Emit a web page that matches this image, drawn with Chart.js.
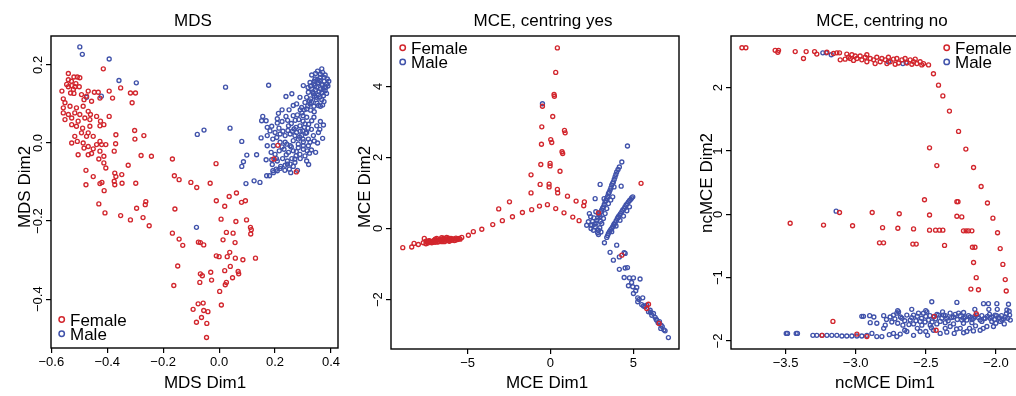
<!DOCTYPE html>
<html><head><meta charset="utf-8">
<script src="https://cdn.jsdelivr.net/npm/chart.js@4/dist/chart.umd.min.js"></script>
<style>
html,body{margin:0;padding:0;background:#fff;overflow:hidden;width:1016px;height:396px;position:relative;}
.p{position:absolute;top:0;height:396px;}
</style></head><body>
<div class="p" style="left:0px;width:345px"><canvas id="c1" width="345" height="396"></canvas></div>
<div class="p" style="left:345px;width:340px"><canvas id="c2" width="340" height="396"></canvas></div>
<div class="p" style="left:685px;width:350px"><canvas id="c3" width="350" height="396"></canvas></div>
<script>
// ---------- data ----------
const seriesNames = ['Female', 'Male'];

const mdsXTicks = [-0.6, -0.4, -0.2, 0, 0.2, 0.4];
const mdsYTicks = [-0.4, -0.2, 0, 0.2];
const mceXTicks = [-5, 0, 5];
const mceYTicks = [-2, 0, 2, 4];
const ncXTicks = [-3.5, -3, -2.5, -2];
const ncYTicks = [-2, -1, 0, 1, 2];

const mdsFemale = [
[-0.539,0.178],[-0.507,0.169],[-0.498,0.167],[-0.414,0.190],[-0.562,0.133],[-0.539,0.144],[-0.527,0.147],[-0.521,0.137],[-0.515,0.144],[-0.531,0.128],[-0.512,0.152],[-0.500,0.144],[-0.468,0.133],[-0.446,0.130],[-0.432,0.130],[-0.393,0.133],[-0.352,0.141],[-0.317,0.128],[-0.299,0.128],[-0.311,0.103],[-0.381,0.115],[-0.426,0.115],[-0.492,0.124],[-0.557,0.113],[-0.551,0.103],[-0.533,0.094],[-0.510,0.090],[-0.486,0.094],[-0.468,0.081],[-0.460,0.073],[-0.498,0.073],[-0.516,0.077],[-0.539,0.073],[-0.557,0.077],[-0.551,0.060],[-0.527,0.064],[-0.504,0.056],[-0.480,0.064],[-0.462,0.060],[-0.438,0.068],[-0.424,0.056],[-0.393,0.068],[-0.527,0.047],[-0.510,0.043],[-0.488,0.038],[-0.462,0.043],[-0.426,0.044],[-0.412,0.047],[-0.492,0.026],[-0.468,0.026],[-0.516,0.017],[-0.474,0.017],[-0.450,0.017],[-0.426,0.004],[-0.507,0.004],[-0.527,0.000],[-0.486,0.000],[-0.468,-0.009],[-0.438,-0.004],[-0.420,-0.004],[-0.405,-0.004],[-0.369,0.021],[-0.302,0.032],[-0.301,0.010],[-0.269,0.019],[-0.370,-0.002],[-0.375,-0.021],[-0.426,-0.021],[-0.456,-0.027],[-0.468,-0.030],[-0.504,-0.030],[-0.483,-0.013],[-0.450,-0.015],[-0.412,-0.034],[-0.430,-0.041],[-0.412,-0.051],[-0.405,-0.064],[-0.476,-0.070],[-0.450,-0.086],[-0.426,-0.104],[-0.419,-0.101],[-0.476,-0.107],[-0.411,-0.122],[-0.373,-0.077],[-0.369,-0.086],[-0.375,-0.098],[-0.373,-0.107],[-0.348,-0.081],[-0.347,-0.103],[-0.325,-0.057],[-0.298,-0.103],[-0.279,-0.032],[-0.242,-0.034],[-0.430,-0.156],[-0.408,-0.179],[-0.352,-0.186],[-0.317,-0.197],[-0.295,-0.167],[-0.272,-0.191],[-0.264,-0.158],[-0.262,-0.150],[-0.250,-0.212],[-0.167,-0.041],[-0.160,-0.084],[-0.143,-0.094],[-0.101,-0.101],[-0.080,-0.114],[-0.032,-0.103],[-0.011,-0.053],[-0.158,-0.169],[-0.167,-0.231],[-0.143,-0.246],[-0.130,-0.262],[-0.148,-0.315],[-0.162,-0.365],[-0.010,-0.148],[0.020,-0.162],[0.036,-0.137],[0.062,-0.128],[0.080,-0.152],[0.094,-0.148],[0.007,-0.195],[0.060,-0.201],[0.098,-0.197],[0.112,-0.216],[0.115,-0.222],[0.113,-0.233],[0.026,-0.229],[0.050,-0.231],[0.014,-0.248],[0.057,-0.255],[-0.074,-0.254],[-0.067,-0.255],[-0.055,-0.261],[-0.010,-0.289],[0.000,-0.291],[0.029,-0.291],[0.038,-0.280],[0.058,-0.295],[0.085,-0.299],[0.130,-0.295],[0.040,-0.316],[0.020,-0.327],[0.068,-0.329],[0.070,-0.335],[0.048,-0.345],[-0.030,-0.331],[-0.067,-0.335],[-0.060,-0.340],[-0.069,-0.357],[-0.027,-0.351],[0.026,-0.357],[0.022,-0.363],[0.002,-0.380],[-0.057,-0.410],[-0.075,-0.412],[-0.055,-0.429],[-0.040,-0.432],[-0.093,-0.426],[-0.063,-0.447],[-0.081,-0.459],[-0.044,-0.462],[0.008,-0.415],[-0.045,-0.498],[0.210,-0.006],[0.196,-0.041],[0.276,-0.074],
[-0.539,0.162],[-0.528,0.158],[-0.545,0.150],[-0.519,0.127],[-0.474,0.120],[-0.456,0.107],[-0.483,0.111],[-0.557,0.090],[-0.519,0.169]
];
const mdsMale = [
[-0.498,0.246],[-0.489,0.227],[-0.393,0.215],[-0.358,0.160],[-0.296,0.154],[-0.421,0.120],[-0.474,0.117],[0.023,0.143],[0.177,0.148],[-0.081,-0.216],
[0.352,0.184],[0.370,0.181],[0.379,0.174],[0.387,0.164],[0.361,0.168],[0.343,0.164],[0.331,0.174],[0.325,0.155],[0.339,0.151],[0.355,0.155],[0.370,0.149],[0.385,0.151],[0.349,0.143],[0.331,0.138],[0.363,0.138],[0.379,0.134],[0.319,0.130],[0.337,0.126],[0.355,0.123],[0.373,0.121],[0.313,0.117],[0.327,0.113],[0.347,0.111],[0.367,0.111],[0.301,0.147],[0.307,0.104],[0.325,0.100],[0.339,0.094],[0.355,0.096],[0.370,0.097],[0.295,0.091],[0.313,0.087],[0.277,0.100],[0.265,0.096],[0.289,0.117],[0.260,0.126],[0.239,0.119],
[0.156,0.068],[0.152,0.057],[0.168,0.057],[0.172,0.040],[0.188,0.043],[0.182,0.031],[0.200,0.027],[0.208,0.051],[0.212,0.076],[0.239,0.068],[0.248,0.044],[0.265,0.070],[0.280,0.072],[0.296,0.077],[0.313,0.066],[0.331,0.057],[0.339,0.066],[0.307,0.049],[0.289,0.044],[0.268,0.036],[0.254,0.023],[0.236,0.019],[0.218,0.023],[0.206,0.014],[0.192,0.010],[0.172,0.019],[0.150,0.013],[0.172,-0.007],[0.194,-0.007],[0.218,0.002],[0.242,-0.003],[0.265,0.006],[0.283,0.010],[0.301,0.003],[0.319,0.010],[0.337,0.019],[0.355,0.027],[0.373,0.046],[0.349,0.044],[0.370,0.012],[0.319,-0.007],[0.301,-0.016],[0.283,-0.012],[0.265,-0.020],[0.248,-0.024],[0.232,-0.016],[0.215,-0.020],[0.200,-0.029],[0.186,-0.024],[0.168,-0.043],[0.188,-0.043],[0.208,-0.046],[0.227,-0.040],[0.244,-0.046],[0.260,-0.040],[0.275,-0.033],[0.289,-0.029],[0.307,-0.033],[0.323,-0.026],[0.345,-0.024],[0.313,-0.046],[0.271,-0.050],[0.254,-0.054],[0.236,-0.057],[0.220,-0.060],[0.204,-0.067],[0.192,-0.071],[0.180,-0.084],[0.194,-0.076],[0.208,-0.071],[0.218,-0.065],[0.251,-0.067],[0.256,-0.076],[0.244,-0.054],[0.271,-0.041],[0.134,-0.030],[0.099,-0.031],[0.087,-0.048],[0.081,-0.060],[0.096,-0.104],[0.125,-0.097],[0.146,-0.101],[0.170,-0.084],[0.081,0.004],[0.039,0.038],[-0.054,0.033],[-0.078,0.022],
[0.343,0.147],[0.358,0.160],[0.335,0.131],[0.367,0.128],[0.347,0.117],[0.323,0.108],[0.375,0.168],[0.367,0.190],[0.277,0.027],[0.295,0.019],[0.313,0.027],[0.299,0.031],[0.283,-0.003],[0.301,-0.007],[0.325,0.002],[0.254,-0.007],[0.271,0.019],[0.236,0.002],
[0.345,0.178],[0.362,0.176],[0.376,0.158],[0.352,0.162],[0.340,0.158],[0.366,0.150],[0.381,0.142],[0.357,0.131],[0.344,0.136],[0.327,0.146],[0.318,0.142],[0.372,0.137],[0.389,0.146],[0.360,0.118],[0.340,0.120],[0.384,0.127],[0.330,0.104],[0.350,0.102],[0.362,0.094],[0.317,0.095],[0.304,0.085],[0.327,0.084],[0.375,0.106],[0.392,0.158],
[0.225,0.055],[0.245,0.058],[0.258,0.050],[0.272,0.058],[0.285,0.060],[0.300,0.056],[0.320,0.048],[0.330,0.035],[0.318,0.038],[0.305,0.040],[0.290,0.030],[0.275,0.040],[0.262,0.030],[0.246,0.032],[0.228,0.030],[0.214,0.038],[0.300,0.010],[0.288,0.015],[0.310,0.025],[0.340,0.005],[0.352,0.000],[0.330,-0.018],[0.315,-0.020],[0.290,-0.040],[0.276,-0.022],[0.258,-0.010],[0.240,-0.030],[0.225,-0.010],[0.205,-0.040],[0.190,-0.055],[0.235,-0.070],[0.265,-0.060],[0.280,-0.070],[0.320,-0.055],[0.360,0.035],[0.362,0.055],[0.290,0.085],[0.250,0.085],[0.225,0.085],[0.300,0.070],[0.340,0.080],[0.208,0.062]
];

const mceFemale = [
[-8.91,-0.54],[-8.37,-0.52],[-8.23,-0.42],[-7.97,-0.45],[-7.67,-0.40],[-7.61,-0.28],[-7.36,-0.35],[-7.26,-0.37],[-7.06,-0.35],[-6.86,-0.33],[-6.66,-0.33],[-6.46,-0.31],[-6.26,-0.31],[-6.06,-0.30],[-5.86,-0.29],[-5.65,-0.29],[-7.16,-0.40],[-6.96,-0.39],[-6.76,-0.37],[-6.56,-0.37],[-6.36,-0.35],[-6.16,-0.34],[-5.96,-0.33],[-5.75,-0.33],[-6.86,-0.28],[-6.56,-0.26],[-6.26,-0.25],[-7.42,-0.38],[-7.51,-0.43],
[-7.5,-0.36],[-7.4,-0.41],[-7.3,-0.34],[-7.2,-0.37],[-7.1,-0.39],[-7.0,-0.33],[-6.9,-0.36],[-6.8,-0.38],[-6.7,-0.31],[-6.6,-0.35],[-6.5,-0.33],[-6.4,-0.37],[-6.3,-0.29],[-6.2,-0.32],[-6.1,-0.36],[-6.0,-0.28],[-5.9,-0.31],[-5.8,-0.34],[-5.7,-0.27],[-5.6,-0.31],[-5.5,-0.28],[-5.45,-0.30],[-6.95,-0.30],[-6.45,-0.27],[-6.15,-0.27],
[-5.35,-0.25],[-4.95,-0.19],[-4.65,-0.09],[-4.14,-0.02],[-3.48,0.11],[-2.90,0.22],[-2.29,0.33],[-1.69,0.45],[-1.13,0.53],[-0.66,0.63],[-0.18,0.67],[0.32,0.56],[0.82,0.44],[1.35,0.32],[1.73,0.22],
[-3.12,0.55],[-2.47,0.75],[-1.17,1.00],[-1.17,1.51],[-0.62,1.24],[-0.58,1.80],[-0.54,2.37],[-0.52,2.86],[-0.48,3.44],[-0.08,1.25],[-0.08,1.17],[-0.02,1.83],[-0.02,1.76],[0.02,2.50],[0.08,2.42],[0.14,3.15],[0.22,3.77],[0.24,3.72],[0.32,4.39],[0.42,5.08],[0.42,1.10],[0.44,1.00],[0.58,1.61],[0.70,2.16],[0.74,2.11],[0.85,2.76],[0.89,2.69],[1.03,0.91],[1.55,0.77],[2.05,0.75],[2.01,0.64],[5.47,1.27],
[2.90,0.44],[4.31,-0.75],[5.81,-2.25],[5.92,-2.13],[6.56,-2.67]
];
const mceMale = [
[-0.48,3.51],[4.65,2.32],[-7.36,-0.37],[-6.06,-0.30],
[2.35,0.42],[2.43,0.33],[2.29,0.19],[2.19,0.09],[2.49,0.09],[2.70,0.05],[2.90,-0.05],[2.90,-0.17],[2.60,-0.05],[2.80,0.23],[3.00,0.33],[2.90,0.42],[3.10,0.52],[3.20,0.61],[3.30,0.75],[3.40,0.84],[3.50,0.98],[3.60,1.08],[3.70,1.22],[3.80,1.31],[3.90,1.45],[4.00,1.59],[4.16,1.73],[4.31,1.87],[3.00,1.24],[2.70,0.84],[3.20,0.28],[3.10,0.14],[3.30,0.42],[3.40,0.56],[3.50,0.70],[3.64,0.80],[3.76,0.89],[3.84,1.17],[4.27,1.19],[3.24,0.84],[2.74,0.47],
[2.95,0.38],[3.05,0.47],[3.15,0.57],[3.25,0.68],[3.35,0.79],[3.45,0.90],[3.55,1.02],[3.65,1.14],[3.75,1.27],[3.85,1.38],[3.95,1.52],[4.08,1.66],[2.85,0.30],[2.75,0.15],[2.65,0.12],[2.55,0.20],[2.45,0.00],[2.98,0.02],[3.05,-0.10],[3.02,0.20],[2.62,0.30],[2.85,-0.12],
[3.40,-0.25],[3.50,-0.14],[3.64,-0.03],[3.76,0.05],[3.90,0.16],[4.04,0.28],[4.16,0.37],[4.31,0.47],[4.45,0.56],[4.57,0.66],[4.71,0.75],[4.85,0.82],[4.97,0.89],[3.70,-0.09],[3.96,0.07],[4.20,0.23],[4.41,0.35],[4.61,0.50],[4.77,0.61],[3.84,0.12],[4.10,0.31],
[3.45,-0.20],[3.57,-0.08],[3.70,0.00],[3.83,0.10],[3.97,0.22],[4.10,0.33],[4.23,0.42],[4.37,0.52],[4.50,0.61],[4.64,0.70],[4.78,0.79],[4.90,0.86],
[3.26,-0.40],[3.60,-0.67],[3.80,-0.89],[4.00,-0.47],[4.16,-0.80],[4.45,-0.68],[4.51,-0.70],[4.16,-1.15],[4.51,-1.11],[4.65,-1.10],[4.45,-1.38],[4.77,-1.39],[5.01,-1.39],[5.41,-1.42],[4.71,-1.61],[4.97,-1.64],[5.21,-1.66],[5.01,-1.83],[5.27,-1.95],[5.57,-1.95],[5.27,-2.06],[5.51,-2.14],[5.71,-2.20],[5.92,-2.34],[6.12,-2.44],[6.32,-2.50],[6.42,-2.58],[6.58,-2.62],[6.68,-2.72],[6.66,-2.81],[6.92,-2.88],[7.12,-3.07],[6.22,-2.39],[6.02,-2.30],[5.81,-2.16],
[5.35,-2.00],[5.62,-2.18],[6.05,-2.36],[6.38,-2.55],[6.50,-2.65],[6.75,-2.76],[6.85,-2.85],[5.15,-1.75],[4.90,-1.52]
];

const ncmceFemale = [
[-3.811,2.63],[-3.783,2.63],[-3.574,2.59],[-3.550,2.59],[-3.555,2.56],[-3.431,2.57],[-3.353,2.57],[-3.372,2.46],[-3.293,2.57],[-3.277,2.53],[-3.205,2.56],[-3.158,2.54],[-3.134,2.55],[-3.115,2.55],[-3.110,2.44],[-3.063,2.53],[-3.027,2.52],[-3.051,2.48],[-3.003,2.50],
[-3.075,2.45],[-3.039,2.46],[-2.991,2.46],[-2.968,2.50],[-2.956,2.44],[-2.932,2.48],[-2.920,2.41],[-2.896,2.46],[-2.872,2.44],[-2.849,2.48],[-2.825,2.41],[-2.813,2.46],[-2.789,2.44],[-2.766,2.48],[-2.754,2.41],[-2.730,2.45],[-2.706,2.46],[-2.694,2.39],[-2.670,2.44],[-2.647,2.46],[-2.635,2.39],[-2.611,2.44],[-2.587,2.41],[-2.563,2.38],[-2.540,2.41],[-2.516,2.38],[-2.861,2.38],[-2.777,2.38],[-2.718,2.37],[-2.920,2.52],[-3.015,2.43],[-2.599,2.37],[-2.575,2.45],[-2.528,2.36],
[-2.480,2.36],[-2.445,2.22],[-2.409,2.04],[-2.378,1.87],[-2.331,1.63],[-2.266,1.31],[-2.214,1.03],[-2.159,0.74],[-2.105,0.44],[-2.060,0.18],[-2.021,-0.06],[-1.988,-0.29],[-1.969,-0.54],[-1.950,-0.79],[-1.933,-1.03],[-1.926,-1.21],
[-2.473,1.05],[-2.421,0.77],[-2.509,0.23],[-2.473,-0.01],[-2.473,-0.25],[-2.430,-0.25],[-2.402,-0.25],[-2.378,-0.25],[-2.366,-0.49],[-2.278,0.20],[-2.270,0.20],[-2.278,-0.03],[-2.243,-0.04],[-2.231,-0.26],[-2.212,-0.26],[-2.195,-0.26],[-2.171,-0.26],[-2.167,-0.52],[-2.149,-0.52],[-2.159,-0.76],[-2.140,-1.00],[-2.178,-1.18],[-2.124,-1.19],
[-3.467,-0.14],[-3.229,-0.17],[-3.115,0.03],[-3.022,-0.18],[-2.882,0.03],[-2.830,-0.45],[-2.801,-0.45],[-2.808,-0.21],[-2.699,-0.22],[-2.689,0.01],[-2.587,-0.23],[-2.592,-0.47],[-2.568,-0.47],
[-3.162,-1.69],[-3.239,-1.91],[-2.991,-1.89],[-2.920,-1.93],[-2.440,-1.61],[-2.426,-1.83],[-2.140,-1.57]
];
const ncmceMale = [
[-3.234,2.55],[-3.210,2.55],[-3.174,2.52],[-2.766,2.41],[-2.663,2.38],[-2.640,2.40],[-3.139,0.05],
[-3.495,-1.88],[-3.486,-1.88],[-3.424,-1.88],[-3.415,-1.88],[-3.305,-1.91],[-3.277,-1.91],[-3.241,-1.91],[-3.205,-1.91],[-3.170,-1.91],[-3.134,-1.91],[-3.098,-1.92],[-3.063,-1.92],[-3.027,-1.92],[-2.991,-1.92],[-2.956,-1.92],[-2.920,-1.91],[-2.884,-1.88],[-2.849,-1.93],[-2.813,-1.93],
[-2.956,-1.61],[-2.944,-1.61],[-2.896,-1.71],[-2.849,-1.72],[-2.789,-1.75],[-2.754,-1.62],[-2.730,-1.59],[-2.706,-1.56],[-2.694,-1.54],[-2.670,-1.64],[-2.663,-1.75],[-2.635,-1.59],[-2.611,-1.67],[-2.587,-1.59],[-2.552,-1.56],[-2.540,-1.69],[-2.516,-1.56],[-2.492,-1.54],[-2.480,-1.67],[-2.457,-1.38],[-2.445,-1.62],[-2.409,-1.59],[-2.397,-1.69],[-2.373,-1.59],[-2.350,-1.64],[-2.326,-1.56],[-2.302,-1.62],[-2.278,-1.39],[-2.266,-1.56],[-2.243,-1.67],[-2.219,-1.62],[-2.207,-1.67],[-2.183,-1.62],[-2.159,-1.64],[-2.136,-1.59],[-2.112,-1.67],[-2.088,-1.41],[-2.076,-1.64],[-2.053,-1.41],[-2.041,-1.64],[-2.017,-1.77],[-2.005,-1.59],[-1.993,-1.41],[-1.981,-1.64],[-1.957,-1.67],[-1.933,-1.62],[-1.921,-1.51],[-1.910,-1.42],[-1.902,-1.59],[-1.897,-1.67],
[-2.730,-1.88],[-2.706,-1.93],[-2.682,-1.89],[-2.635,-1.85],[-2.587,-1.91],[-2.540,-1.85],[-2.487,-1.91],[-2.445,-1.83],[-2.397,-1.88],[-2.361,-1.80],[-2.326,-1.77],[-2.297,-1.88],[-2.254,-1.80],[-2.207,-1.85],[-2.188,-1.80],[-2.145,-1.76],[-2.112,-1.83],[-2.064,-1.77],
[-2.587,-1.73],[-2.528,-1.75],[-2.468,-1.75],[-2.421,-1.73],[-2.361,-1.71],[-2.302,-1.73],[-2.231,-1.72],[-2.171,-1.71],[-2.100,-1.69],[-2.029,-1.69],[-1.969,-1.69],
[-2.900,-1.60],[-2.870,-1.62],[-2.800,-1.60],[-2.780,-1.66],[-2.742,-1.70],[-2.720,-1.65],[-2.700,-1.72],[-2.680,-1.62],[-2.650,-1.68],[-2.620,-1.74],[-2.600,-1.63],[-2.570,-1.68],[-2.560,-1.61],[-2.530,-1.64],[-2.505,-1.70],[-2.500,-1.61],[-2.470,-1.60],[-2.455,-1.70],[-2.430,-1.65],[-2.420,-1.58],[-2.385,-1.64],[-2.360,-1.60],[-2.340,-1.68],[-2.315,-1.63],[-2.290,-1.58],[-2.275,-1.66],[-2.255,-1.60],[-2.230,-1.64],[-2.195,-1.60],[-2.170,-1.66],[-2.150,-1.61],[-2.125,-1.63],[-2.100,-1.60],[-2.085,-1.65],[-2.060,-1.61],[-2.045,-1.58],[-2.030,-1.62],[-2.010,-1.66],[-1.995,-1.60],[-1.975,-1.63],[-1.960,-1.60],[-1.945,-1.65],[-1.925,-1.57],[-1.915,-1.64],[-1.905,-1.53],[-2.050,-1.50],[-1.990,-1.50],[-2.150,-1.50],[-2.230,-1.55],[-2.600,-1.50],[-2.700,-1.52],[-2.500,-1.52],[-2.380,-1.54],[-2.800,-1.80],[-2.760,-1.90],[-2.650,-1.83],[-2.560,-1.80],[-2.500,-1.85],[-2.460,-1.79],[-2.350,-1.86],[-2.280,-1.81],[-2.230,-1.87],[-2.160,-1.84],[-2.090,-1.80],[-2.000,-1.72],[-1.940,-1.73]
];

// ---------- drawing ----------
const FONT = '"Liberation Sans", Arial, Helvetica, sans-serif';
const RED = '#d2262d', BLUE = '#4052aa';
const fmt = (v, d) => (v < -1e-9 ? '\u2212' : '') + Math.abs(v).toFixed(d);

function makePanel(id, c) {
  const decor = {
    id: 'rDecor',
    afterDraw(chart) {
      const ctx = chart.ctx, a = chart.chartArea, off = c.offset;
      ctx.save();
      ctx.strokeStyle = '#000'; ctx.lineWidth = 1.4;
      ctx.strokeRect(a.left, a.top, a.right - a.left, a.bottom - a.top);
      ctx.fillStyle = '#000';
      const ys = chart.scales.y;
      ctx.font = '13px ' + FONT; ctx.textAlign = 'center'; ctx.textBaseline = 'middle';
      ys.ticks.forEach(t => {
        const py = ys.getPixelForValue(t.value);
        ctx.save(); ctx.translate(a.left - 12.8, py); ctx.rotate(-Math.PI / 2);
        ctx.fillText(t.label, 0, 0); ctx.restore();
      });
      ctx.font = '17px ' + FONT;
      ctx.fillText(c.title, c.titleX - off, 21.5);
      ctx.fillText(c.xlab, c.xlabX - off, 383);
      ctx.save(); ctx.translate(c.ylabX - off, c.ylabY); ctx.rotate(-Math.PI / 2);
      ctx.fillText(c.ylab, 0, 0); ctx.restore();
      ctx.textAlign = 'left'; ctx.textBaseline = 'alphabetic';
      [RED, BLUE].forEach((col, i) => {
        const mx = c.legX - off, my = c.legY + i * 14.2;
        ctx.beginPath(); ctx.arc(mx, my, 2.7, 0, 2 * Math.PI);
        ctx.strokeStyle = col; ctx.lineWidth = 1.5; ctx.stroke();
        ctx.fillText(seriesNames[i], mx + 8.3, my + 6.5);
      });
      ctx.restore();
    }
  };
  const ds = (arr, col) => ({
    data: arr.map(([x, y]) => ({ x, y })),
    borderColor: col, backgroundColor: 'rgba(0,0,0,0)',
    pointRadius: 2.0, pointBorderWidth: 1.35, pointHoverRadius: 2.0, showLine: false
  });
  return new Chart(document.getElementById(id), {
    type: 'scatter',
    data: { datasets: [ds(c.female, RED), ds(c.male, BLUE)] },
    options: {
      responsive: false, animation: false,
      layout: { padding: { top: 36, right: c.padRight, left: 0, bottom: 0 } },
      plugins: { legend: { display: false }, tooltip: { enabled: false } },
      scales: {
        x: {
          type: 'linear', min: c.xr[0], max: c.xr[1],
          afterBuildTicks: s => { s.ticks = c.xt.map(v => ({ value: v })); },
          afterFit: s => { s.height = c.xH; s.paddingLeft = 0; s.paddingRight = 0; },
          grid: { drawOnChartArea: false, drawTicks: true, tickLength: 5, color: '#000', lineWidth: 1.2 },
          border: { display: false },
          ticks: { autoSkip: false, maxRotation: 0, minRotation: 0, padding: 2, color: '#000',
                   font: { family: FONT, size: 13 }, callback: v => fmt(v, c.xd) }
        },
        y: {
          type: 'linear', min: c.yr[0], max: c.yr[1],
          afterBuildTicks: s => { s.ticks = c.yt.map(v => ({ value: v })); },
          afterFit: s => { s.width = c.yW; s.paddingTop = 0; s.paddingBottom = 0; },
          grid: { drawOnChartArea: false, drawTicks: true, tickLength: 5, color: '#000', lineWidth: 1.2 },
          border: { display: false },
          ticks: { autoSkip: false, color: 'rgba(0,0,0,0)', font: { family: FONT, size: 13 },
                   callback: v => fmt(v, c.yd) }
        }
      }
    },
    plugins: [decor]
  });
}

makePanel('c1', {
  offset: 0, female: mdsFemale, male: mdsMale,
  xr: [-0.601, 0.425], yr: [-0.525, 0.274], xt: mdsXTicks, yt: mdsYTicks, xd: 1, yd: 1,
  yW: 51, xH: 48, padRight: 7,
  title: 'MDS', titleX: 193, xlab: 'MDS Dim1', xlabX: 205, ylab: 'MDS Dim2', ylabX: 25, ylabY: 187,
  legX: 61.7, legY: 319.5
});
makePanel('c2', {
  offset: 345, female: mceFemale, male: mceMale,
  xr: [-9.62, 7.76], yr: [-3.39, 5.415], xt: mceXTicks, yt: mceYTicks, xd: 0, yd: 0,
  yW: 46, xH: 47, padRight: 6,
  title: 'MCE, centring yes', titleX: 543, xlab: 'MCE Dim1', xlabX: 547, ylab: 'MCE Dim2', ylabX: 365, ylabY: 187,
  legX: 402.7, legY: 47.7
});
makePanel('c3', {
  offset: 685, female: ncmceFemale, male: ncmceMale,
  xr: [-3.889, -1.78], yr: [-2.126, 2.816], xt: ncXTicks, yt: ncYTicks, xd: 1, yd: 0,
  yW: 46, xH: 47, padRight: 8.3,
  title: 'MCE, centring no', titleX: 882, xlab: 'ncMCE Dim1', xlabX: 885, ylab: 'ncMCE Dim2', ylabX: 707.5, ylabY: 183,
  legX: 946.7, legY: 47.7
});
</script>
</body></html>
